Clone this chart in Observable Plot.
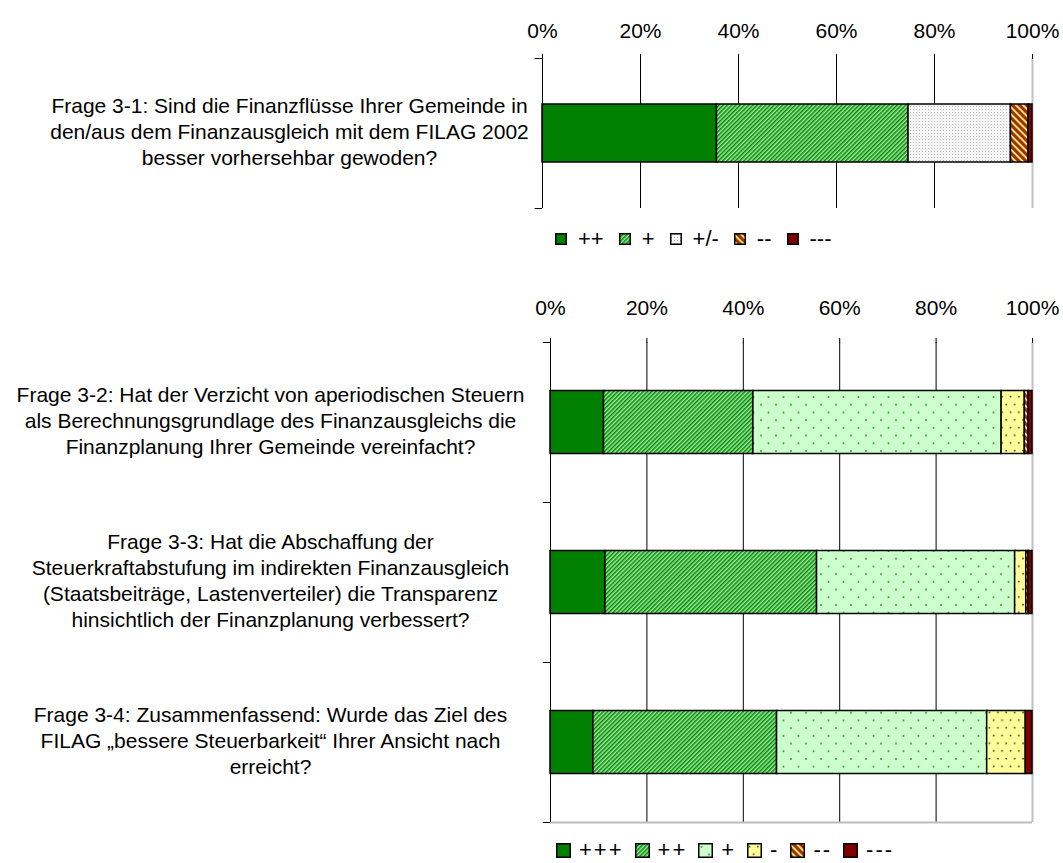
<!DOCTYPE html>
<html>
<head>
<meta charset="utf-8">
<script src="https://cdn.jsdelivr.net/npm/d3@7"></script>
<script src="https://cdn.jsdelivr.net/npm/@observablehq/plot@0.6"></script>
<style>
  body { margin: 0; background: #fff; font-family: "Liberation Sans", Arial, sans-serif; }
  #wrap { position: relative; width: 1063px; height: 863px; overflow: hidden; background: #fff; }
  .chart { position: absolute; left: 0; }
  .legend { position: absolute; display: flex; align-items: center; color: #000; white-space: nowrap; line-height: 1; }
  .legend .item { display: flex; align-items: center; }
  .legend svg { display: block; }
</style>
</head>
<body>
<svg width="0" height="0" style="position:absolute">
  <defs>
    <pattern id="pGreenStripe" patternUnits="userSpaceOnUse" width="3" height="3" patternTransform="rotate(45)">
      <rect width="3" height="3" fill="#a0eca0"/>
      <rect width="1.5" height="3" fill="#048504"/>
    </pattern>
    <pattern id="pBrownStripe" patternUnits="userSpaceOnUse" width="5" height="5" patternTransform="rotate(-45)">
      <rect width="5" height="5" fill="#ffee88"/>
      <rect width="3.2" height="5" fill="#993300"/>
    </pattern>
    <pattern id="pGrayDots" patternUnits="userSpaceOnUse" width="3" height="3">
      <rect width="3" height="3" fill="#f6f6f6"/>
      <rect x="1" y="1" width="1" height="1" fill="#b8b8b8"/>
    </pattern>
    <pattern id="pGreenDots" patternUnits="userSpaceOnUse" width="15" height="15.4">
      <rect width="15" height="15.4" fill="#ccffcc"/>
      <circle cx="3.5" cy="3.8" r="1" fill="#2e9a2e"/>
      <circle cx="11" cy="11.5" r="1" fill="#2e9a2e"/>
    </pattern>
    <pattern id="pYellowDots" patternUnits="userSpaceOnUse" width="8.4" height="15.4">
      <rect width="8.4" height="15.4" fill="#ffff99"/>
      <circle cx="2.5" cy="3.5" r="0.9" fill="#333"/>
      <circle cx="6.7" cy="11.2" r="0.9" fill="#333"/>
    </pattern>
  </defs>
</svg>
<div id="wrap"></div>
<script>
// ---------- data ----------
const tickValues = [0, 20, 40, 60, 80, 100];

const topQuestions = [
  "Frage 3-1: Sind die Finanzflüsse Ihrer Gemeinde in\nden/aus dem Finanzausgleich mit dem FILAG 2002\nbesser vorhersehbar gewoden?"
];
const topLevels = ["++", "+", "+/-", "--", "---"];
const shares31 = [35.6, 39.1, 20.9, 3.6, 0.8];

const bottomQuestions = [
  "Frage 3-2: Hat der Verzicht von aperiodischen Steuern\nals Berechnungsgrundlage des Finanzausgleichs die\nFinanzplanung Ihrer Gemeinde vereinfacht?",
  "Frage 3-3: Hat die Abschaffung der\nSteuerkraftabstufung im indirekten Finanzausgleich\n(Staatsbeiträge, Lastenverteiler) die Transparenz\nhinsichtlich der Finanzplanung verbessert?",
  "Frage 3-4: Zusammenfassend: Wurde das Ziel des\nFILAG „bessere Steuerbarkeit“ Ihrer Ansicht nach\nerreicht?"
];
const bottomLevels = ["+++", "++", "+", "-", "--", "---"];
const shares32 = [11.1, 31.0, 51.5, 4.8, 0.8, 0.8];
const shares33 = [11.4, 43.9, 41.1, 2.3, 0.5, 0.8];
const shares34 = [8.9, 38.1, 43.6, 8.0, 0.0, 1.4];

// ---------- styles ----------
const topFills = ["#007f00", "url(#pGreenStripe)", "url(#pGrayDots)", "url(#pBrownStripe)", "#800000"];
const bottomFills = ["#007f00", "url(#pGreenStripe)", "url(#pGreenDots)", "url(#pYellowDots)", "url(#pBrownStripe)", "#800000"];
const FONT = '"Liberation Sans", Arial, sans-serif';
const LABEL_SIZE = 21;

function makeChart({questions, levels, fills, shares, marginLeft, marginTop, frameBottom, labelX, barH, tickPadding, bottomBorder}) {
  const data = questions.flatMap((q, i) => levels.map((l, j) => ({question: q, level: l, share: shares[i][j]})))
    .filter(d => d.share > 0);
  const step = (frameBottom - marginTop) / questions.length;
  const inset = (step - barH) / 2;
  const last = questions[questions.length - 1];
  return Plot.plot({
    width: 1063,
    height: frameBottom + 6,
    marginLeft,
    marginRight: 31,
    marginTop,
    marginBottom: 6,
    style: {fontFamily: FONT, fontSize: "21px", color: "#000", background: "transparent", overflow: "visible"},
    x: {domain: [0, 100], label: null},
    y: {domain: questions, padding: 0, axis: null},
    color: {domain: levels, range: fills},
    marks: [
      Plot.ruleX([20, 40, 60, 80], {stroke: "#000", strokeWidth: 1}),
      Plot.ruleX([100], {stroke: "#c0c0c0", strokeWidth: 2}),
      bottomBorder ? Plot.ruleY([last], {y: d => d, x1: 0, x2: 100, dy: step / 2, stroke: "#bdbdbd", strokeWidth: 2}) : null,
      Plot.barX(data, {x: "share", y: "question", fill: "level", stroke: "#000", strokeWidth: 1.5, insetTop: inset, insetBottom: inset}),
      Plot.ruleX([0], {stroke: "#000", strokeWidth: 1}),
      Plot.ruleY(questions, {y: d => d, x1: -1.5, x2: 0, dy: step / 2, stroke: "#000"}),
      Plot.ruleY([questions[0]], {y: d => d, x1: -1.5, x2: 0, dy: -step / 2, stroke: "#000"}),
      Plot.axisX({anchor: "top", ticks: tickValues, tickFormat: d => d + "%", tickSize: 5, tickPadding, fontSize: 21, label: null}),
      Plot.text(questions, {y: d => d, frameAnchor: "left", dx: labelX - marginLeft, dy: -3, textAnchor: "middle",
        lineHeight: 26 / LABEL_SIZE, fontSize: LABEL_SIZE, letterSpacing: "0.45px"})
    ]
  });
}

function makeLegend(levels, fills, {left, top, swatch, fontSize, letterSpacing, gapIn, gapOut}) {
  const div = document.createElement("div");
  div.className = "legend";
  div.style.left = left + "px";
  div.style.top = top + "px";
  div.style.fontSize = fontSize + "px";
  div.style.letterSpacing = letterSpacing + "px";
  levels.forEach((l, i) => {
    const item = document.createElement("div");
    item.className = "item";
    item.style.marginRight = gapOut + "px";
    item.innerHTML = `<svg width="${swatch}" height="${swatch}"><rect x="0.75" y="0.75" width="${swatch - 1.5}" height="${swatch - 1.5}" fill="${fills[i]}" stroke="#000" stroke-width="1.5"/></svg><span style="margin-left:${gapIn}px">${l}</span>`;
    div.appendChild(item);
  });
  return div;
}

const wrap = document.getElementById("wrap");

const chartTop = makeChart({
  questions: topQuestions, levels: topLevels, fills: topFills, shares: [shares31],
  marginLeft: 542, marginTop: 58, frameBottom: 208, labelX: 289, barH: 58, tickPadding: 16, bottomBorder: false
});
chartTop.classList.add("chart");
chartTop.style.top = "0px";
wrap.appendChild(chartTop);

const chartBottom = makeChart({
  questions: bottomQuestions, levels: bottomLevels, fills: bottomFills, shares: [shares32, shares33, shares34],
  marginLeft: 550, marginTop: 72, frameBottom: 552, labelX: 270, barH: 63, tickPadding: 23, bottomBorder: true
});
chartBottom.classList.add("chart");
chartBottom.style.top = "270px";
wrap.appendChild(chartBottom);

wrap.appendChild(makeLegend(topLevels, topFills, {left: 555, top: 228, swatch: 12, fontSize: 22, letterSpacing: 0, gapIn: 11, gapOut: 15}));
wrap.appendChild(makeLegend(bottomLevels, bottomFills, {left: 556, top: 839, swatch: 15, fontSize: 22, letterSpacing: 2, gapIn: 8, gapOut: 11}));
</script>
</body>
</html>
